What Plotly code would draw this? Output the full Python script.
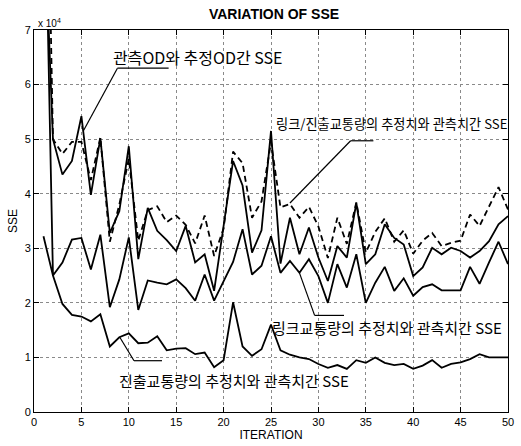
import plotly.graph_objects as go

iteration = list(range(1, 51))

# SSE values in units of 1e4
sse_od = [9.5, 5.0, 4.35, 4.6, 5.42, 3.98, 5.02, 3.28, 3.68, 4.87,
          2.8, 3.74, 3.32, 3.15, 2.95, 3.41, 2.74, 2.89, 2.22, 3.4,
          4.6, 4.15, 2.92, 3.33, 5.15, 2.72, 3.56, 2.89, 3.38, 2.83,
          2.4, 3.04, 2.83, 3.83, 2.71, 2.89, 3.44, 3.19, 3.07, 2.49,
          2.65, 3.01, 2.89, 3.01, 2.95, 2.83, 2.95, 3.13, 3.44, 3.59]

sse_link_exit = [14.0, 5.0, 4.73, 4.95, 4.95, 4.25, 5.03, 3.12, 3.8, 4.64,
                 3.14, 3.7, 3.77, 3.48, 3.6, 3.43, 3.09, 3.6, 2.86, 3.36,
                 4.77, 4.56, 3.56, 3.86, 4.95, 3.75, 3.81, 3.56, 3.76, 3.4,
                 2.82, 3.56, 3.08, 3.84, 2.92, 3.3, 3.55, 3.12, 3.33, 2.9,
                 3.14, 3.28, 3.04, 3.1, 3.14, 3.62, 3.41, 3.77, 4.12, 3.71]

sse_link = [11.0, 2.5, 2.74, 3.16, 3.19, 2.61, 3.25, 1.92, 2.43, 3.2,
            1.87, 2.41, 2.37, 2.34, 2.43, 2.27, 2.04, 2.52, 2.04, 2.41,
            2.75, 3.35, 2.52, 2.68, 3.22, 2.55, 2.77, 2.55, 2.8, 2.49,
            2.0, 2.71, 2.28, 2.89, 2.0, 2.37, 2.66, 2.22, 2.45, 2.13,
            2.29, 2.34, 2.23, 2.23, 2.23, 2.66, 2.35, 2.74, 3.12, 2.71]

sse_exit = [3.22, 2.5, 1.98, 1.78, 1.75, 1.66, 1.79, 1.2, 1.37, 1.44,
            1.26, 1.27, 1.39, 1.13, 1.16, 1.17, 1.06, 1.09, 0.82, 0.95,
            2.01, 1.2, 1.03, 1.15, 1.6, 1.13, 1.05, 1.0, 0.97, 0.88,
            0.81, 0.86, 0.79, 0.95, 0.9, 1.0, 0.9, 0.86, 0.88, 0.79,
            0.85, 0.95, 0.81, 0.88, 0.91, 0.97, 1.06, 1.0, 1.0, 1.0]

x_ticks = [0, 5, 10, 15, 20, 25, 30, 35, 40, 45, 50]
y_ticks = [0, 1, 2, 3, 4, 5, 6, 7]

label_od = "관측OD와 추정OD간 SSE"
label_link_exit = "링크/진출교통량의 추정치와 관측치간 SSE"
label_link = "링크교통량의 추정치와 관측치간 SSE"
label_exit = "진출교통량의 추정치와 관측치간 SSE"

fig = go.Figure()
line_style = dict(color="black", width=1.8)
fig.add_trace(go.Scatter(x=iteration, y=sse_od, mode="lines", line=line_style))
fig.add_trace(go.Scatter(x=iteration, y=sse_link_exit, mode="lines",
                         line=dict(color="black", width=1.8, dash="6px,4px")))
fig.add_trace(go.Scatter(x=iteration, y=sse_link, mode="lines", line=line_style))
fig.add_trace(go.Scatter(x=iteration, y=sse_exit, mode="lines", line=line_style))

kfont = dict(family="Noto Sans CJK KR", size=14, color="black")

annotations = [
    dict(x=8.1, y=6.5, text=label_od, xanchor="left", yanchor="middle", font=dict(kfont, size=16)),
    dict(x=25.3, y=5.28, text=label_link_exit, xanchor="left", yanchor="middle", font=dict(kfont, size=13.2)),
    dict(x=24.9, y=1.55, text=label_link, xanchor="left", yanchor="middle", font=dict(kfont, size=15)),
    dict(x=8.8, y=0.58, text=label_exit, xanchor="left", yanchor="middle", font=dict(kfont, size=15)),
    dict(x=0.0, y=7.0, text="x 10<sup>4</sup>", xanchor="left", yanchor="bottom", xshift=2, yshift=-1,
         font=dict(family="Liberation Sans", size=10, color="black")),
]
for a in annotations:
    a["showarrow"] = False

lw = dict(color="black", width=1.2)
shapes = [
    # leader for OD label
    dict(type="line", x0=5.2, y0=5.15, x1=8.8, y1=6.3, line=lw),
    dict(type="line", x0=8.8, y0=6.3, x1=14.2, y1=6.3, line=lw),
    # leader for link/exit label
    dict(type="line", x0=27.0, y0=3.83, x1=33.4, y1=4.97, line=lw),
    dict(type="line", x0=33.4, y0=4.97, x1=35.8, y1=4.97, line=lw),
    # leader for link label
    dict(type="line", x0=28.0, y0=2.55, x1=29.6, y1=1.77, line=lw),
    dict(type="line", x0=29.6, y0=1.77, x1=32.7, y1=1.77, line=lw),
    # leader for exit label
    dict(type="line", x0=9.05, y0=1.37, x1=10.55, y1=0.94, line=lw),
    dict(type="line", x0=10.55, y0=0.94, x1=13.5, y1=0.94, line=lw),
]

axis_common = dict(
    showline=True, linecolor="black", linewidth=1, mirror="ticks",
    ticks="inside", ticklen=5, tickcolor="black", tickwidth=1,
    showgrid=True, gridcolor="#8a8a8a", griddash="dot", gridwidth=1,
    zeroline=False,
    tickfont=dict(family="Liberation Sans", size=11, color="black"),
)

fig.update_layout(
    width=521, height=446,
    margin=dict(l=34, r=7, t=30, b=31),
    paper_bgcolor="white", plot_bgcolor="white",
    showlegend=False,
    title=dict(text="<b>VARIATION OF SSE</b>", x=274 / 521, xanchor="center",
               y=1 - 14 / 446, yanchor="middle",
               font=dict(family="Liberation Sans", size=14, color="black")),
    xaxis=dict(axis_common, range=[0, 50], tickvals=x_ticks,
               title=dict(text="ITERATION", standoff=2,
                          font=dict(family="Liberation Sans", size=12, color="black"))),
    yaxis=dict(axis_common, range=[0, 7], tickvals=y_ticks,
               title=dict(text="SSE", standoff=4,
                          font=dict(family="Liberation Sans", size=12, color="black"))),
    annotations=annotations,
    shapes=shapes,
)

fig.write_html("out.html")
